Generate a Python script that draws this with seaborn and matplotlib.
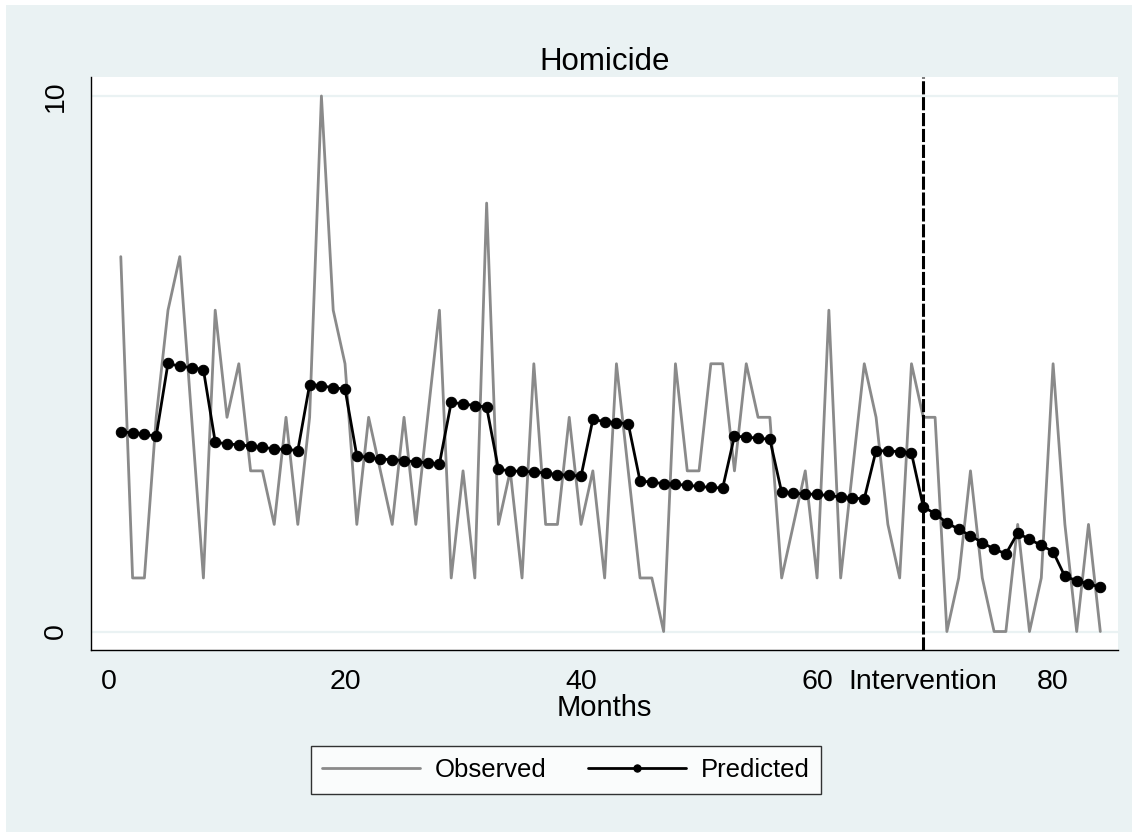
import numpy as np
import pandas as pd
import matplotlib
matplotlib.use('Agg')
import matplotlib.pyplot as plt
import seaborn as sns
from matplotlib.patches import Rectangle

# monthly homicide counts and fitted values from the segmented model
months = list(range(1, 85))
observed = [7, 1, 1, 4, 6, 7, 4, 1, 6, 4, 5, 3, 3, 2, 4, 2, 4, 10, 6, 5,
            2, 4, 3, 2, 4, 2, 4, 6, 1, 3, 1, 8, 2, 3, 1, 5, 2, 2, 4, 2,
            3, 1, 5, 3, 1, 1, 0, 5, 3, 3, 5, 5, 3, 5, 4, 4, 1, 2, 3, 1,
            6, 1, 3, 5, 4, 2, 1, 5, 4, 4, 0, 1, 3, 1, 0, 0, 2, 0, 1, 5,
            2, 0, 2, 0]
predicted = [3.73, 3.71, 3.68, 3.65, 5.01, 4.95, 4.93, 4.89,
             3.54, 3.50, 3.49, 3.46, 3.44, 3.41, 3.40, 3.38,
             4.61, 4.59, 4.55, 4.53,
             3.28, 3.25, 3.22, 3.21, 3.19, 3.17, 3.15, 3.13,
             4.28, 4.25, 4.22, 4.19,
             3.03, 3.00, 2.99, 2.98, 2.96, 2.93, 2.92, 2.90,
             3.96, 3.92, 3.90, 3.88,
             2.81, 2.79, 2.76, 2.75, 2.73, 2.71, 2.69, 2.68,
             3.65, 3.63, 3.61, 3.59,
             2.60, 2.58, 2.57, 2.56, 2.54, 2.51, 2.49, 2.48,
             3.38, 3.37, 3.36, 3.33,
             2.33, 2.20, 2.03, 1.91, 1.79, 1.66, 1.54, 1.45,
             1.84, 1.72, 1.61, 1.49, 1.03, 0.95, 0.89, 0.83]
intervention = 69
xticks = [0, 20, 40, 60, intervention, 80]
xticklabels = ['0', '20', '40', '60', 'Intervention', '80']
yticks = [0, 10]

df = pd.DataFrame({'month': months, 'observed': observed, 'predicted': predicted})

sns.set_style('white')
plt.rcParams['font.family'] = ['Liberation Sans', 'DejaVu Sans']
plt.rcParams['text.color'] = 'black'
plt.rcParams['axes.labelcolor'] = 'black'

bg = '#EAF2F3'
fig = plt.figure(figsize=(11.32, 8.32), dpi=100, facecolor='white')
fig.patches.append(Rectangle((6 / 1132, 0), 1, 1 - 5 / 832, transform=fig.transFigure,
                             facecolor=bg, edgecolor='none', zorder=-10))

ax = fig.add_axes([90.7 / 1132, 1 - 650 / 832, (1118 - 90.7) / 1132, (650 - 76.7) / 832])
ax.set_facecolor('white')

for y in yticks:
    ax.axhline(y, color=bg, lw=1.6, zorder=0)

sns.lineplot(data=df, x='month', y='observed', ax=ax, color='#8a8a8a', lw=2.0,
             label='Observed', zorder=2)
sns.lineplot(data=df, x='month', y='predicted', ax=ax, color='black', lw=2.0,
             marker='o', markersize=7.5, markeredgecolor='black', label='Predicted', zorder=3)
ax.axvline(intervention, color='black', lw=2.2, dashes=(4.3, 0.9), zorder=4)

ax.set_xlim(-1.55, 85.5)
ax.set_ylim(-0.345, 10.36)
ax.set_xticks(xticks)
ax.set_xticklabels(xticklabels)
ax.set_yticks(yticks)
ax.set_yticklabels([str(v) for v in yticks], rotation=90, va='center')
ax.tick_params(axis='both', direction='out', length=8.6, width=1, color='black',
               labelsize=20.5, labelcolor='black')
ax.tick_params(axis='x', pad=5)
ax.tick_params(axis='y', pad=7)

for side in ['top', 'right']:
    ax.spines[side].set_visible(False)
for side in ['left', 'bottom']:
    ax.spines[side].set_color('black')
    ax.spines[side].set_linewidth(1)

ax.set_xlabel('Months', fontsize=21, labelpad=-1, color='black')
ax.set_ylabel('')
ax.set_title('Homicide', fontsize=22.5, pad=5, color='black')

handles, labels = ax.get_legend_handles_labels()
ax.get_legend().remove()
leg = fig.legend(handles, labels, loc='center', bbox_to_anchor=(566 / 1132, 1 - 770 / 832),
                 ncol=2, fontsize=18.5, frameon=True, fancybox=False, edgecolor='black',
                 handlelength=3.8, handletextpad=0.6, columnspacing=1.6, borderpad=0.45,
                 markerscale=0.7)
leg.get_frame().set_linewidth(1)
leg.get_frame().set_facecolor('white')

fig.savefig('out.png', dpi=100, facecolor=fig.get_facecolor())
